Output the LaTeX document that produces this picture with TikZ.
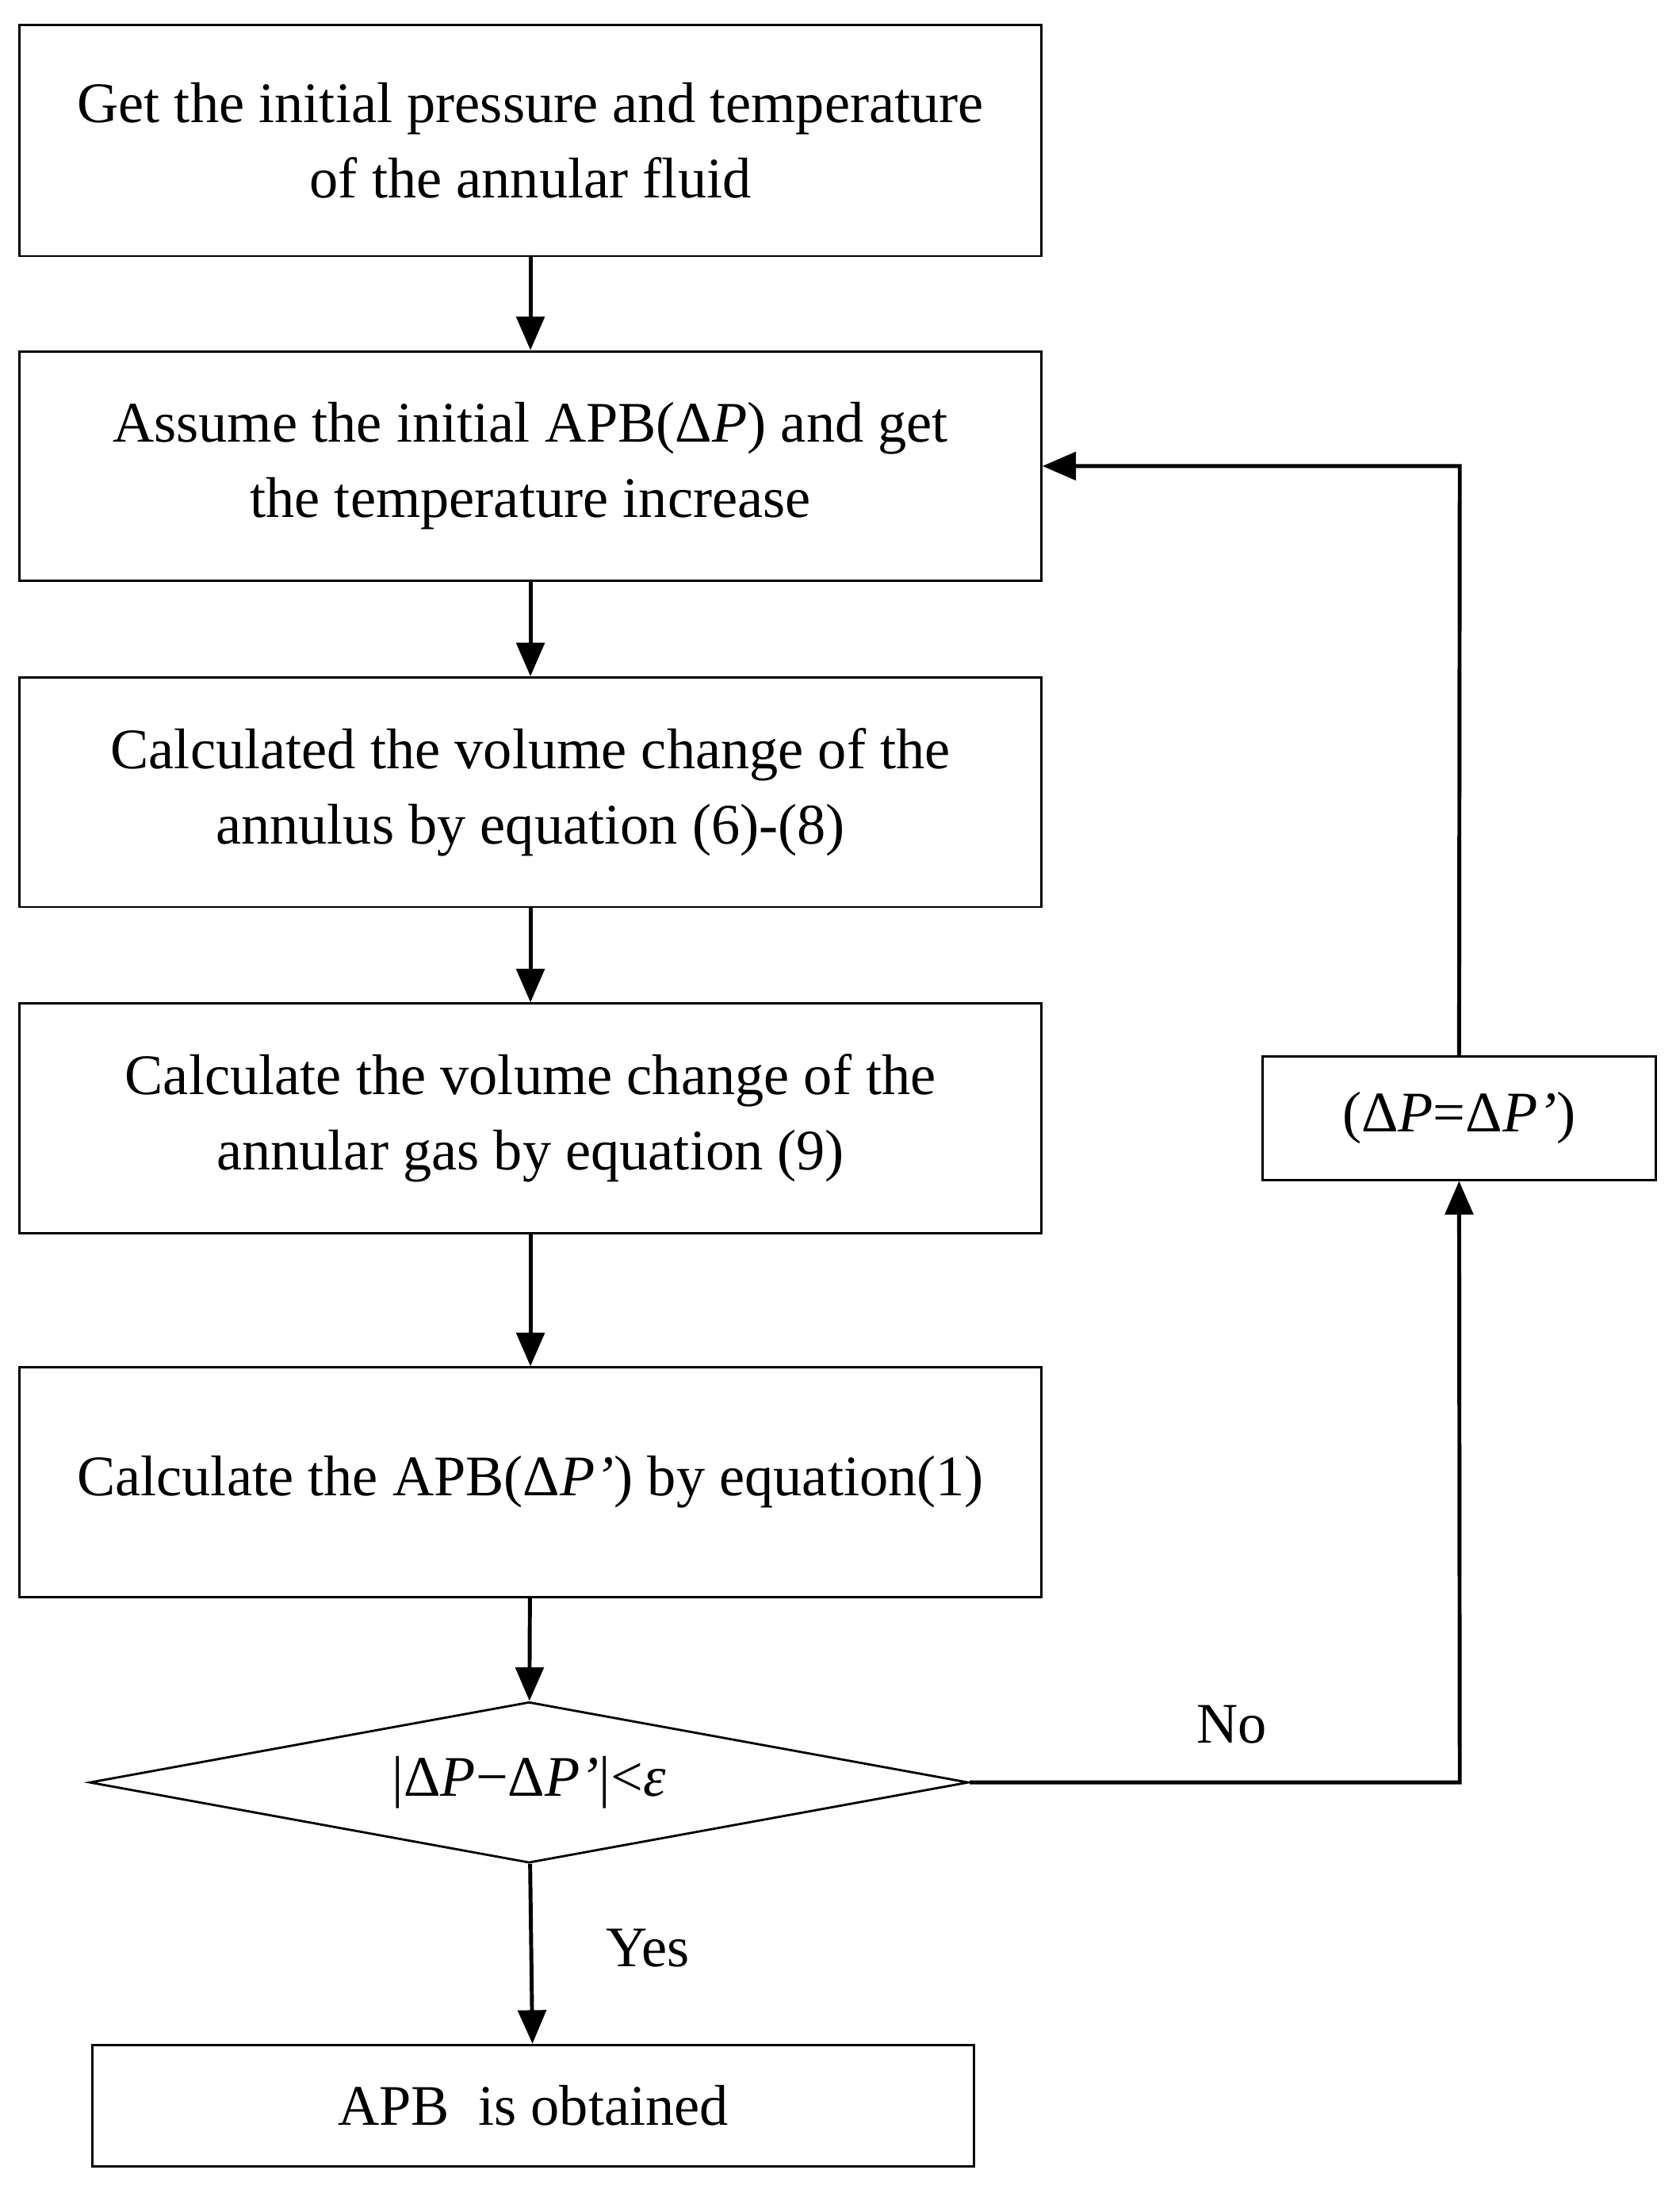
\documentclass[tikz,border=0pt]{standalone}
\usepackage{fontspec}
\setmainfont{Liberation Serif}
\usetikzlibrary{shapes.geometric,arrows.meta}
\begin{document}
\begin{tikzpicture}[x=1pt,y=-1pt,
  box/.style={draw,line width=1.6pt,align=center,inner sep=0pt},
  arr/.style={line width=2.8pt,-{Triangle[length=24pt,width=20pt]}},
  every node/.style={font=\fontsize{41}{54}\selectfont}]
\useasboundingbox (0,0) rectangle (1200,1564);
\node[box,minimum width=730pt,minimum height=165pt] (b1) at (379,100.5) {Get the initial pressure and temperature\\of the annular fluid};
\node[box,minimum width=730pt,minimum height=164pt] (b2) at (379,333) {Assume the initial APB(Δ\textit{P}) and get\\the temperature increase};
\node[box,minimum width=730pt,minimum height=164pt] (b3) at (379,566) {Calculated the volume change of the\\annulus by equation (6)-(8)};
\node[box,minimum width=730pt,minimum height=164pt] (b4) at (379,799) {Calculate the volume change of the\\annular gas by equation (9)};
\node[box,minimum width=730pt,minimum height=164pt] (b5) at (379,1059) {Calculate the APB(Δ\textit{P’}) by equation(1)};
\node[draw,line width=1.6pt,diamond,aspect=5.46,minimum width=628pt,minimum height=115pt,inner sep=0pt] (d) at (378,1273.5) {|Δ\textit{P}−Δ\textit{P’}|<\textit{ε}};
\node[box,minimum width=630pt,minimum height=87pt] (b6) at (381,1504.5) {APB\ \ is obtained};
\node[box,minimum width=281pt,minimum height=88pt] (s) at (1042.5,799) {(Δ\textit{P}=Δ\textit{P’})};
\draw[arr] (b1) -- (b2);
\draw[arr] (b2) -- (b3);
\draw[arr] (b3) -- (b4);
\draw[arr] (b4) -- (b5);
\draw[arr] (b5) -- (d);
\draw[arr] (d) -- (b6);
\coordinate (c1) at (1043,1273.5);
\coordinate (c2) at (1043,333);
\draw[arr] (d.east) -- (c1) -- (s.south);
\draw[arr] (s.north) -- (c2) -- (b2.east);
\node at (880,1232) {No};
\node at (463,1392) {Yes};
\end{tikzpicture}
\end{document}
